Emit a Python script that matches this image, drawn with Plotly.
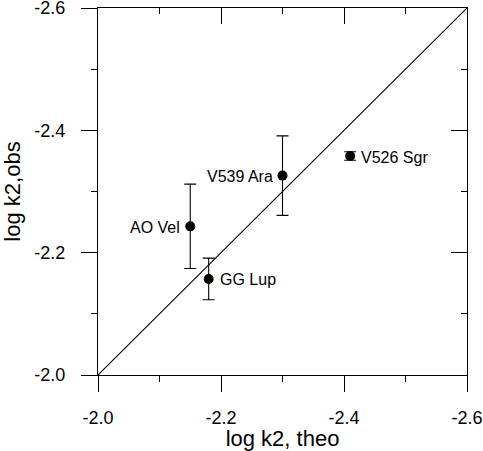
import plotly.graph_objects as go

# Data
stars = ["AO Vel", "GG Lup", "V539 Ara", "V526 Sgr"]
log_k2_theo = [-2.15, -2.18, -2.30, -2.41]
log_k2_obs = [-2.243, -2.157, -2.326, -2.358]
obs_err = [0.069, 0.034, 0.065, 0.007]
label_side = ["left", "right", "left", "right"]

tick_vals = [-2.0, -2.2, -2.4, -2.6]
tick_text = ["-2.0", "-2.2", "-2.4", "-2.6"]
minor_vals = [-2.1, -2.3, -2.5]
axis_range = [-2.0, -2.6]

FONT = "Liberation Sans, Arial, Helvetica, sans-serif"
LW = 1.3

fig = go.Figure()

# 1:1 line
fig.add_trace(go.Scatter(
    x=axis_range, y=axis_range, mode="lines",
    line=dict(color="black", width=1.1), hoverinfo="skip", showlegend=False,
))

# data points with error bars
fig.add_trace(go.Scatter(
    x=log_k2_theo, y=log_k2_obs, mode="markers",
    marker=dict(color="black", size=10),
    error_y=dict(type="data", array=obs_err, visible=True,
                 color="black", thickness=1.1, width=6),
    showlegend=False,
))

# invisible traces to activate mirrored axes
fig.add_trace(go.Scatter(x=[axis_range[0]], y=[axis_range[0]], xaxis="x2", yaxis="y",
                         mode="markers", marker=dict(opacity=0), hoverinfo="skip", showlegend=False))
fig.add_trace(go.Scatter(x=[axis_range[0]], y=[axis_range[0]], xaxis="x", yaxis="y2",
                         mode="markers", marker=dict(opacity=0), hoverinfo="skip", showlegend=False))

for name, xv, yv, side in zip(stars, log_k2_theo, log_k2_obs, label_side):
    if side == "left":
        fig.add_annotation(x=xv, y=yv, text=name, showarrow=False,
                           xanchor="right", yanchor="middle", xshift=-8, yshift=-1,
                           font=dict(family=FONT, size=16, color="black"))
    else:
        fig.add_annotation(x=xv, y=yv, text=name, showarrow=False,
                           xanchor="left", yanchor="middle", xshift=9, yshift=-1,
                           font=dict(family=FONT, size=16, color="black"))

common = dict(
    range=axis_range, showgrid=False, zeroline=False, showline=True,
    linecolor="black", linewidth=LW, automargin=False,
    tickmode="array", tickvals=tick_vals, ticklabeloverflow="allow",
    tickcolor="black", tickwidth=LW, ticklen=16,
    tickfont=dict(family=FONT, size=18, color="black"),
)

fig.update_layout(
    width=483, height=451,
    margin=dict(l=98, r=16, t=8, b=76, autoexpand=False),
    paper_bgcolor="white", plot_bgcolor="white",
    font=dict(family=FONT, color="black"),
    xaxis=dict(**common, side="bottom", ticks="outside", ticktext=tick_text,
               ticklabelstandoff=10,
               minor=dict(tickvals=minor_vals, ticks="outside", ticklen=6,
                          tickwidth=LW, tickcolor="black"),
               title=dict(text="log k2, theo", standoff=1,
                          font=dict(family=FONT, size=22, color="black"))),
    yaxis=dict(**common, side="left", ticks="outside", ticktext=tick_text,
               ticklabelstandoff=12,
               minor=dict(tickvals=minor_vals, ticks="outside", ticklen=6,
                          tickwidth=LW, tickcolor="black"),
               title=dict(text="log k2,obs", standoff=14,
                          font=dict(family=FONT, size=22, color="black"))),
    xaxis2=dict(**common, overlaying="x", side="top", ticks="inside",
                showticklabels=False,
                minor=dict(tickvals=minor_vals, ticks="inside", ticklen=6,
                           tickwidth=LW, tickcolor="black")),
    yaxis2=dict(**common, overlaying="y", side="right", ticks="inside",
                showticklabels=False,
                minor=dict(tickvals=minor_vals, ticks="inside", ticklen=6,
                           tickwidth=LW, tickcolor="black")),
)

fig.write_html("out.html", config={"displayModeBar": False},
               post_script="document.body.style.margin='0';document.body.style.overflow='hidden';")
